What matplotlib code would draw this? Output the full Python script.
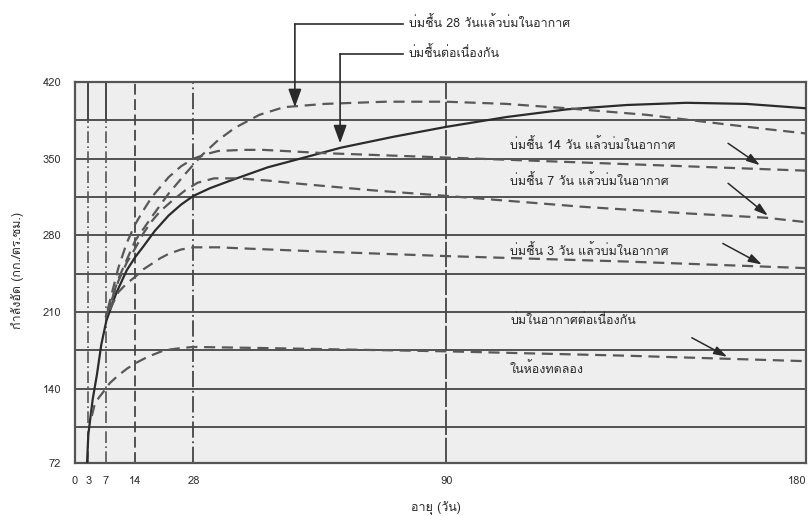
import numpy as np
import matplotlib
matplotlib.use("Agg")
import matplotlib.pyplot as plt
from matplotlib import font_manager
from matplotlib.ft2font import FT2Font

# ---- pick a font that can draw Thai ----
thai_family = None
for f in font_manager.fontManager.ttflist:
    try:
        if 0x0E1A in FT2Font(f.fname).get_charmap():
            thai_family = f.name
            break
    except Exception:
        pass
fams = ([thai_family] if thai_family else []) + ['DejaVu Sans']
plt.rcParams['font.family'] = fams

# ---- data (age in days, strength kg/cm2) ----
moist_days = [2.7, 3, 4, 5, 6, 7.2, 9.5, 12, 14, 16, 18.7, 22, 25, 28, 32, 37, 46, 54,
              64, 77, 90, 105, 120, 135, 150, 165, 180]
moist_vals = [72, 98, 130, 153, 180, 202, 227, 248, 260, 270, 284, 298, 308, 316, 323, 330,
              342, 350, 360, 370, 379, 388, 395, 399, 401, 400, 396]

moist28_days = [7.5, 10, 14, 18, 22, 26, 30, 34, 38, 44, 50, 60, 75, 90, 105, 120, 140,
                156, 170, 180]
moist28_vals = [210, 240, 275, 297, 318, 336, 353, 367, 378, 390, 397, 400, 402, 402, 400,
                396, 390, 383, 377, 373]

moist14_days = [7.5, 10, 12, 14, 16, 18, 20, 22, 25, 28, 31, 34, 40, 45, 60, 90, 120, 150, 180]
moist14_vals = [212, 250, 273, 290, 303, 315, 324, 333, 343, 350, 354, 357, 358, 358, 355,
                351, 347, 343, 339]

moist7_days = [7, 10, 12, 14, 16, 18, 20, 23, 26, 29, 33, 39, 46, 54, 72, 90, 124, 150, 170, 180]
moist7_vals = [205, 238, 255, 268, 282, 293, 302, 312, 321, 328, 332, 332, 330, 327, 321, 316,
               306, 300, 296, 292]

moist3_days = [8, 10, 12, 14, 16, 18, 20, 22, 25, 28, 34, 40, 60, 90, 135, 180]
moist3_vals = [212, 228, 236, 242, 249, 254, 259, 263, 267, 269, 269, 268, 265, 261, 256, 250]

air_days = [3.8, 4.5, 5.5, 6.5, 8, 10, 12, 14, 17, 21, 25, 28, 45, 90, 135, 180]
air_vals = [115, 126, 132, 137, 145, 152, 158, 163, 169, 175, 177, 178, 177, 174, 170, 165]

x_ticks = [0, 3, 7, 14, 28, 90, 180]
y_ticks = [72, 140, 210, 280, 350, 420]
h_grid = [105, 140, 175, 210, 245, 280, 315, 350, 385]

top_labels = ['บ่มชื้น 28 วันแล้วบ่มในอากาศ', 'บ่มชื้นต่อเนื่องกัน']
side_labels = ['บ่มชื้น 14 วัน แล้วบ่มในอากาศ', 'บ่มชื้น 7 วัน แล้วบ่มในอากาศ',
               'บ่มชื้น 3 วัน แล้วบ่มในอากาศ', 'บ่มในอากาศต่อเนื่องกัน', 'ในห้องทดลอง']

# ---- figure ----
fig = plt.figure(figsize=(8.11, 5.16), dpi=100)
ax = fig.add_axes([75/811, 1-463/516, 731/811, 381/516])
ax.set_facecolor('#eeeeee')

# the scanned axis is very slightly non linear
p = 0.978
ax.set_xscale('function', functions=(lambda x: np.sign(x)*np.abs(x)**p,
                                     lambda x: np.sign(x)*np.abs(x)**(1/p)))
ax.set_xlim(0, 180)
ax.set_ylim(72, 420)

gc = '#454545'
for v in h_grid:
    ax.axhline(v, color=gc, lw=1.3, zorder=1)

top_frac = (385 - 72) / (420 - 72)
for d in [3, 7]:
    ax.axvline(d, ymin=top_frac, ymax=1, color=gc, lw=1.4, zorder=1)
    ax.axvline(d, ymin=0, ymax=top_frac, color='#555555', lw=1.2,
               ls=(0, (7, 2, 1, 2)), zorder=1)
ax.axvline(14, color=gc, lw=1.3, ls=(0, (6, 2.5)), zorder=1)
ax.axvline(28, color=gc, lw=1.3, ls=(0, (9, 2, 1, 2)), zorder=1)
ax.axvline(90, color=gc, lw=1.3, ls=(0, (14, 1.5)), zorder=1)

dash = (0, (5, 3))
dc = '#585858'
ax.plot(moist_days, moist_vals, color='#2b2b2b', lw=1.6, zorder=3)
ax.plot(moist28_days, moist28_vals, color=dc, lw=1.6, ls=dash, zorder=3)
ax.plot(moist14_days, moist14_vals, color=dc, lw=1.6, ls=dash, zorder=3)
ax.plot(moist7_days, moist7_vals, color=dc, lw=1.6, ls=dash, zorder=3)
ax.plot(moist3_days, moist3_vals, color=dc, lw=1.6, ls=dash, zorder=3)
ax.plot(air_days, air_vals, color=dc, lw=1.6, ls=dash, zorder=3)

for s in ax.spines.values():
    s.set_color('#555555')
    s.set_linewidth(1.6)

ax.set_xticks(x_ticks)
ax.set_xticklabels([str(t) for t in x_ticks])
ax.get_xticklabels()[-1].set_horizontalalignment('right')
ax.set_yticks(y_ticks)
ax.set_yticklabels([str(t) for t in y_ticks])
ax.tick_params(length=0, labelsize=8, labelcolor='#333333')
ax.tick_params(axis='x', pad=9)
ax.tick_params(axis='y', pad=10)
ax.minorticks_off()

tc = '#2a2a2a'
fs = 9
# top leader arrows
ax.annotate('', xy=(52.7, 397), xytext=(52.7, 473), annotation_clip=False,
            arrowprops=dict(arrowstyle='-|>,head_length=1.1,head_width=0.4',
                            color=tc, lw=1.2, shrinkA=0, shrinkB=0))
ax.plot([52.7, 79.3], [473, 473], color=tc, lw=1.2, clip_on=False)
ax.text(80.8, 474, top_labels[0], fontsize=fs, color=tc, va='center', clip_on=False)

ax.annotate('', xy=(63.8, 364), xytext=(63.8, 445.6), annotation_clip=False,
            arrowprops=dict(arrowstyle='-|>,head_length=1.1,head_width=0.4',
                            color=tc, lw=1.2, shrinkA=0, shrinkB=0))
ax.plot([63.8, 79.3], [445.6, 445.6], color=tc, lw=1.2, clip_on=False)
ax.text(80.8, 446.5, top_labels[1], fontsize=fs, color=tc, va='center', clip_on=False)

# side labels and small arrows
side_y = [362, 330, 266, 202, 158]
for lab, yv in zip(side_labels, side_y):
    ax.text(105.9, yv, lab, fontsize=fs, color=tc, va='center')

arrows = [((160.4, 364), (168.4, 344)),
          ((160.4, 327.5), (170.4, 298)),
          ((159.1, 272.5), (168.9, 253.3)),
          ((151.3, 186.4), (160.2, 169))]
for a, b in arrows:
    ax.annotate('', xy=b, xytext=a,
                arrowprops=dict(arrowstyle='-|>,head_length=0.8,head_width=0.25',
                                color=tc, lw=1.1, shrinkA=0, shrinkB=0))

fig.text(18/811, 1-270/516, 'กำลังอัด (กก./ตร.ซม.)', rotation=90, fontsize=fs,
         color=tc, ha='center', va='center')
fig.text(436/811, 1-508/516, 'อายุ (วัน)', fontsize=fs, color=tc,
         ha='center', va='center')

fig.savefig('out.png', dpi=100)
